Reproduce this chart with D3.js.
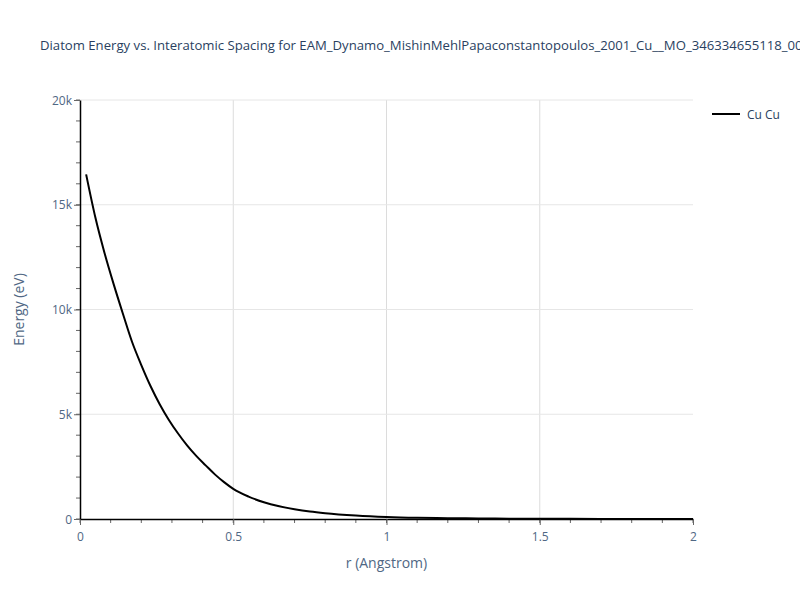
<!DOCTYPE html>
<html>
<head>
<meta charset="utf-8">
<script src="https://cdn.jsdelivr.net/npm/d3@7"></script>
<style>
  body { margin: 0; background: #fff; }
  text { font-family: "Open Sans", verdana, arial, sans-serif; }
</style>
</head>
<body>
<div id="viz-container"></div>
<script>
let w = 800;
let h = 600;
let margin = {left: 80, right: 107, top: 100, bottom: 81};

// data
let seriesName = "Cu Cu";
let rValues = [0.02, 0.05, 0.08, 0.11, 0.14, 0.17, 0.2, 0.23, 0.26, 0.29, 0.32, 0.35, 0.38, 0.41, 0.44, 0.47,
               0.5, 0.55, 0.6, 0.65, 0.7, 0.75, 0.8, 0.9, 1.0, 1.1, 1.2, 1.3, 1.4, 1.6, 1.8, 2.0];
let energyValues = [16450, 14400, 12700, 11200, 9800, 8450, 7350, 6350, 5480, 4730, 4080, 3500, 3000, 2560, 2130, 1760,
                    1440, 1070, 800, 610, 470, 360, 280, 170, 100, 60, 40, 25, 15, 6, 3, 1];
let xTicks = [0, 0.5, 1, 1.5, 2];
let xTickLabels = ["0", "0.5", "1", "1.5", "2"];
let yTicks = [0, 5000, 10000, 15000, 20000];
let yTickLabels = ["0", "5k", "10k", "15k", "20k"];

let data = rValues.map((r, i) => ({r: r, e: energyValues[i]}));

let viz = d3.select("#viz-container")
  .append("svg")
  .attr("width", w)
  .attr("height", h)
  .style("background-color", "#ffffff");

let x = d3.scaleLinear().domain([0, 2]).range([margin.left, w - margin.right]);
let y = d3.scaleLinear().domain([0, 20000]).range([h - margin.bottom, margin.top]);

// grid lines
viz.append("g").selectAll("line").data(xTicks.slice(1, -1)).enter().append("line")
  .attr("x1", d => x(d)).attr("x2", d => x(d))
  .attr("y1", margin.top).attr("y2", h - margin.bottom)
  .attr("stroke", "#dcdcdc").attr("stroke-width", 1);
viz.append("g").selectAll("line").data(yTicks.slice(1)).enter().append("line")
  .attr("x1", margin.left).attr("x2", w - margin.right)
  .attr("y1", d => y(d)).attr("y2", d => y(d))
  .attr("stroke", "#e6e6e6").attr("stroke-width", 1);

// minor ticks
let xMinor = d3.range(0, 21).map(i => i / 10);
let yMinor = d3.range(0, 21).map(i => i * 1000);
viz.append("g").selectAll("line").data(xMinor).enter().append("line")
  .attr("x1", d => x(d)).attr("x2", d => x(d))
  .attr("y1", h - margin.bottom).attr("y2", h - margin.bottom + 4)
  .attr("stroke", "#666");
viz.append("g").selectAll("line").data(yMinor).enter().append("line")
  .attr("x1", margin.left - 4).attr("x2", margin.left)
  .attr("y1", d => y(d)).attr("y2", d => y(d))
  .attr("stroke", "#666");

// axes
let xAxis = d3.axisBottom(x).tickValues(xTicks).tickFormat((d, i) => xTickLabels[i]).tickSize(6).tickSizeOuter(0);
let yAxis = d3.axisLeft(y).tickValues(yTicks).tickFormat((d, i) => yTickLabels[i]).tickSize(6).tickSizeOuter(0);

let gx = viz.append("g").attr("transform", `translate(0,${h - margin.bottom})`).call(xAxis);
let gy = viz.append("g").attr("transform", `translate(${margin.left},0)`).call(yAxis);
[gx, gy].forEach(g => {
  g.select(".domain").attr("stroke", "#000").attr("stroke-width", 1.5);
  g.selectAll(".tick line").attr("stroke", "#666");
  g.selectAll(".tick text").attr("fill", "#506784").attr("font-size", 12)
    .style("font-family", '"Open Sans", verdana, arial, sans-serif');
});
gx.selectAll(".tick text").attr("dy", "1.1em");
gy.selectAll(".tick text").attr("dy", "0.35em").attr("x", -8);

// curve
let line = d3.line().x(d => x(d.r)).y(d => y(d.e)).curve(d3.curveMonotoneX);
viz.append("path").datum(data)
  .attr("d", line)
  .attr("fill", "none")
  .attr("stroke", "#000")
  .attr("stroke-width", 2);

// title (clipped at the right edge, as in the reference)
viz.append("text")
  .text("Diatom Energy vs. Interatomic Spacing for EAM_Dynamo_MishinMehlPapaconstantopoulos_2001_Cu__MO_346334655118_005")
  .attr("x", 40).attr("y", 50)
  .attr("font-size", 13.15)
  .attr("fill", "#2a3f5f");

// axis titles
viz.append("text").text("r (Angstrom)")
  .attr("x", (margin.left + w - margin.right) / 2).attr("y", 568)
  .attr("text-anchor", "middle").attr("font-size", 14).attr("fill", "#506784");
viz.append("text").text("Energy (eV)")
  .attr("transform", `translate(24,${(margin.top + h - margin.bottom) / 2}) rotate(-90)`)
  .attr("text-anchor", "middle").attr("font-size", 14).attr("fill", "#506784");

// legend
let legend = viz.append("g").attr("transform", "translate(712,114)");
legend.append("line").attr("x1", 0).attr("x2", 28).attr("y1", 0).attr("y2", 0)
  .attr("stroke", "#000").attr("stroke-width", 2);
legend.append("text").text(seriesName).attr("x", 35).attr("y", 4.5)
  .attr("font-size", 12).attr("fill", "#2a3f5f");
</script>
</body>
</html>
